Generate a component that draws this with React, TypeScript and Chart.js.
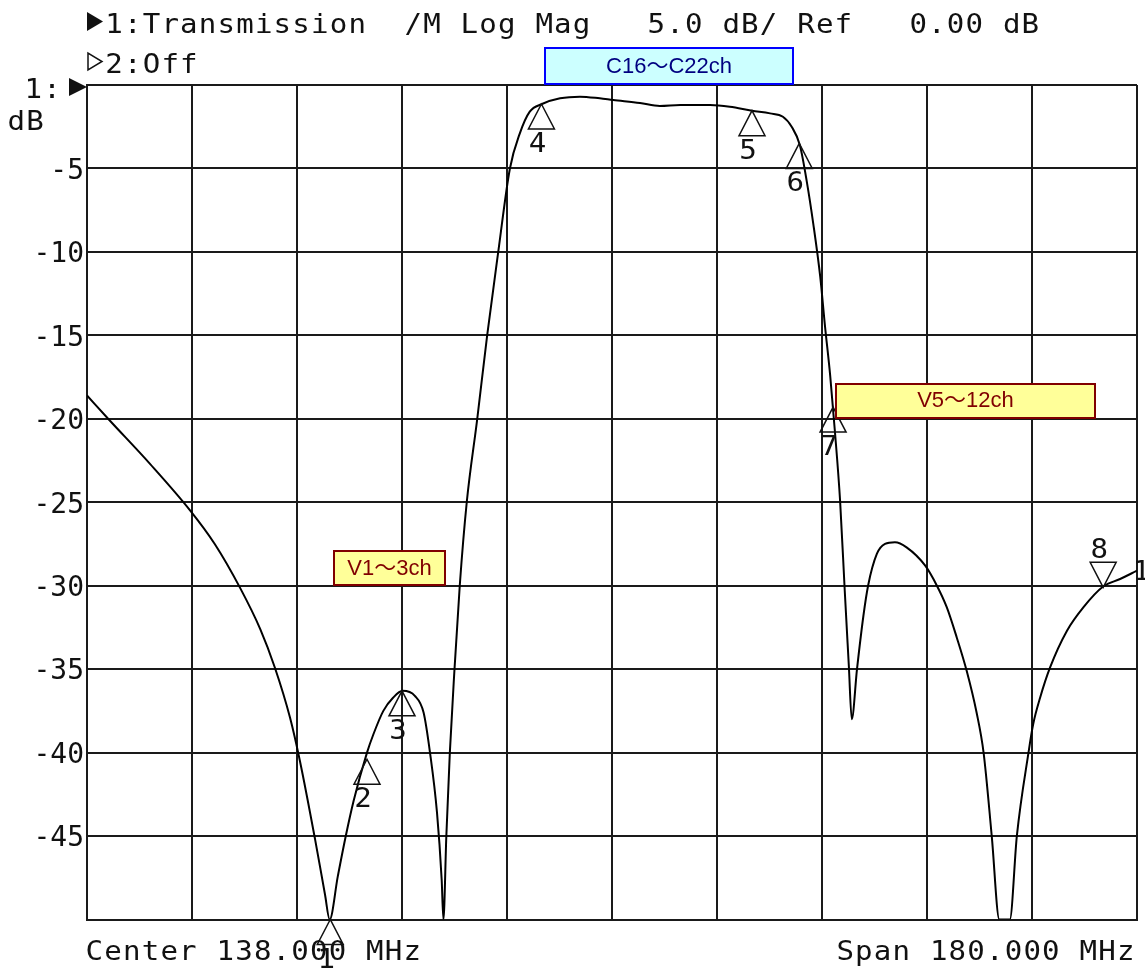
import React, { useEffect, useRef } from 'react';
import { Chart, registerables } from 'chart.js';

Chart.register(...registerables);

const freqMHz = [
  48.0, 51.9, 58.8, 65.7, 69.9, 74.2, 77.7, 80.2, 82.8, 84.5, 87.1, 88.8, 89.6,
  91.0, 92.3, 93.7, 96.0, 97.1, 98.8, 100.5, 102.1, 104.2, 105.7, 106.8, 108.0, 108.8, 109.1,
  109.6, 110.2, 111.0, 111.9, 113.1, 114.9, 116.6, 118.5, 120.5, 122.2, 123.9, 126.0, 129.1,
  132.5, 135.9, 138.2, 142.8, 146.2, 149.7, 154.8, 158.2, 162.0, 165.1, 167.3, 168.8, 170.2, 171.4,
  172.5, 173.7, 174.5, 175.4, 176.2, 177.1, 177.9, 178.6, 179.1, 180.0, 181.1, 181.9, 183.4,
  184.8, 186.5, 188.5, 191.7, 193.7, 195.4, 197.1, 198.8, 200.5, 201.7, 203.1, 204.4, 206.2, 207.4,
  209.4, 210.2, 211.4, 213.1, 216.0, 218.8, 222.2, 225.1, 228.0,
];
const transDb = [
  -18.6, -20.1, -22.7, -25.5, -27.5, -30.1, -32.6, -34.9, -37.9, -40.5, -45.2, -48.5, -50.0,
  -47.4, -45.1, -42.9, -40.0, -38.9, -37.5, -36.7, -36.3, -36.6, -37.6, -40.0, -43.6, -47.6, -50.0,
  -45.0, -40.0, -35.0, -30.0, -25.0, -20.0, -15.0, -10.0, -5.0, -2.9, -1.6, -1.14, -0.8,
  -0.7, -0.8, -0.9, -1.08, -1.26, -1.2, -1.2, -1.3, -1.54, -1.7, -1.9, -2.5, -3.6, -5.8,
  -8.3, -11.5, -14.4, -17.4, -20.7, -24.9, -30.3, -34.8, -38.0, -35.0, -31.8, -30.0, -28.1,
  -27.5, -27.4, -27.7, -28.8, -30.0, -31.3, -33.1, -35.1, -37.6, -40.0, -45.0, -50.0, -50.0, -45.0,
  -40.0, -38.3, -36.7, -34.9, -32.7, -31.3, -30.05, -29.6, -29.1,
];

const markerNames = ['1', '2', '3', '4', '5', '6', '7', '8'];
const markerFreq = [89.7, 96.0, 102.0, 125.9, 162.0, 170.1, 175.9, 222.2];
const markerDb = [-50.0, -40.4, -36.3, -1.14, -1.54, -3.5, -19.3, -30.1];

const freqMin = 48;
const freqMax = 228;
const freqStep = 18;
const dbMin = -50;
const dbMax = 0;
const dbStep = 5;

const headerLine1 = '1:Transmission  /M Log Mag   5.0 dB/ Ref   0.00 dB';
const headerLine2 = '2:Off';
const refLabel = '1:';
const unitLabel = 'dB';
const centerLabel = 'Center 138.000 MHz';
const spanLabel = 'Span 180.000 MHz';
const traceEndLabel = '1';
const bandLabels = ['C16〜C22ch', 'V5〜12ch', 'V1〜3ch'];

// ---- styling ----
const MONO_FAMILY = '"DejaVu Sans Mono", monospace';
const MONO = `26px ${MONO_FAMILY}`;
const PITCH = 18.7;
const STRETCH = 1.12;
const INK = '#111111';

function drawMono(ctx: CanvasRenderingContext2D, text: string, x: number, y: number) {
  ctx.save();
  ctx.font = MONO;
  ctx.fillStyle = INK;
  ctx.textAlign = 'center';
  ctx.textBaseline = 'alphabetic';
  for (let i = 0; i < text.length; i++) {
    const ch = text[i];
    if (ch === ' ') continue;
    ctx.save();
    ctx.translate(x + i * PITCH + PITCH / 2, y);
    ctx.scale(STRETCH, 1);
    ctx.fillText(ch, 0, 0);
    ctx.restore();
  }
  ctx.restore();
}

function drawBox(
  ctx: CanvasRenderingContext2D,
  text: string,
  x0: number,
  y0: number,
  x1: number,
  y1: number,
  fill: string,
  stroke: string,
  color: string,
  baseline: number
) {
  ctx.save();
  ctx.fillStyle = fill;
  ctx.fillRect(x0, y0, x1 - x0, y1 - y0);
  ctx.strokeStyle = stroke;
  ctx.lineWidth = 2;
  ctx.strokeRect(x0, y0, x1 - x0, y1 - y0);
  ctx.fillStyle = color;
  ctx.font = '22px "Liberation Sans", "Noto Sans CJK JP", sans-serif';
  ctx.textAlign = 'center';
  ctx.textBaseline = 'alphabetic';
  ctx.fillText(text, (x0 + x1) / 2, baseline);
  ctx.restore();
}

const overlayPlugin = {
  id: 'analyzerOverlay',
  beforeDraw(chart: any) {
    const ctx = chart.ctx as CanvasRenderingContext2D;
    ctx.save();
    ctx.fillStyle = '#ffffff';
    ctx.fillRect(0, 0, chart.width, chart.height);
    ctx.restore();
  },
  afterDraw(chart: any) {
    const ctx = chart.ctx as CanvasRenderingContext2D;
    const xs = chart.scales.x;
    const ys = chart.scales.y;
    const area = chart.chartArea;

    // header triangles
    ctx.save();
    ctx.fillStyle = INK;
    ctx.beginPath();
    ctx.moveTo(87, 12);
    ctx.lineTo(87, 31);
    ctx.lineTo(103, 21.5);
    ctx.closePath();
    ctx.fill();
    ctx.strokeStyle = INK;
    ctx.lineWidth = 1.5;
    ctx.beginPath();
    ctx.moveTo(88, 53);
    ctx.lineTo(88, 70);
    ctx.lineTo(102, 61.5);
    ctx.closePath();
    ctx.stroke();
    // reference arrow
    ctx.beginPath();
    ctx.moveTo(69, 78);
    ctx.lineTo(69, 96);
    ctx.lineTo(87, 87);
    ctx.closePath();
    ctx.fill();
    ctx.restore();

    drawMono(ctx, headerLine1, 86 + PITCH, 33);
    drawMono(ctx, headerLine2, 86 + PITCH, 73);
    drawMono(ctx, refLabel, 24, 98);
    drawMono(ctx, unitLabel, 7, 130);
    drawMono(ctx, centerLabel, 85, 960);
    drawMono(ctx, spanLabel, area.right - spanLabel.length * PITCH - 2, 960);
    drawMono(ctx, traceEndLabel, area.right - 5, 580);

    // markers
    ctx.save();
    ctx.strokeStyle = INK;
    ctx.lineWidth = 1.5;
    for (let i = 0; i < markerNames.length; i++) {
      const px = xs.getPixelForValue(markerFreq[i]);
      const py = ys.getPixelForValue(markerDb[i]);
      const down = i === markerNames.length - 1;
      const h = 25;
      const w = 13;
      ctx.beginPath();
      if (down) {
        ctx.moveTo(px, py);
        ctx.lineTo(px - w, py - h);
        ctx.lineTo(px + w, py - h);
      } else {
        ctx.moveTo(px, py);
        ctx.lineTo(px - w, py + h);
        ctx.lineTo(px + w, py + h);
      }
      ctx.closePath();
      ctx.stroke();
      const ly = down ? py - h - 4 : py + h + 23;
      drawMono(ctx, markerNames[i], px - 4 - PITCH / 2, ly);
    }
    ctx.restore();

    // band annotations
    drawBox(ctx, bandLabels[0], 545, 48, 793, 84, '#ccffff', '#0000ff', '#000080', 73);
    drawBox(ctx, bandLabels[1], 836, 384, 1095, 418, '#ffff99', '#800000', '#800000', 407);
    drawBox(ctx, bandLabels[2], 334, 551, 445, 585, '#ffff99', '#800000', '#800000', 575);
  },
};

export default function App() {
  const canvasRef = useRef<HTMLCanvasElement | null>(null);

  useEffect(() => {
    const canvas = canvasRef.current;
    if (!canvas) return;
    const points = freqMHz.map((f, i) => ({ x: f, y: transDb[i] }));
    const chart = new Chart(canvas, {
      type: 'scatter',
      data: {
        datasets: [
          {
            data: points,
            showLine: true,
            borderColor: '#000000',
            borderWidth: 2,
            pointRadius: 0,
            cubicInterpolationMode: 'monotone',
          },
        ],
      },
      options: {
        responsive: false,
        animation: false,
        devicePixelRatio: 1,
        layout: { padding: { left: 0, top: 85, right: 8, bottom: 49.5 } },
        plugins: { legend: { display: false }, tooltip: { enabled: false } },
        scales: {
          x: {
            type: 'linear',
            min: freqMin,
            max: freqMax,
            ticks: { display: false, stepSize: freqStep },
            grid: { color: '#1a1a1a', lineWidth: 2, drawTicks: false },
            border: { display: true, color: '#1a1a1a', width: 2 },
            afterFit: (s: any) => {
              s.height = 0;
            },
          },
          y: {
            type: 'linear',
            min: dbMin,
            max: dbMax,
            ticks: {
              stepSize: dbStep,
              padding: 3,
              labelOffset: 3,
              color: INK,
              font: { family: MONO_FAMILY, size: 28 },
              callback: (v: any) => (v === dbMax || v === dbMin ? '' : String(v)),
            },
            grid: { color: '#1a1a1a', lineWidth: 2, drawTicks: false },
            border: { display: true, color: '#1a1a1a', width: 2 },
            afterFit: (s: any) => {
              s.width = 87;
            },
          },
        },
      },
      plugins: [overlayPlugin],
    });
    return () => chart.destroy();
  }, []);

  return (
    <div style={{ position: 'absolute', left: 0, top: 0, width: 1145, height: 969, background: '#fff' }}>
      <canvas ref={canvasRef} width={1145} height={969} style={{ display: 'block' }} />
    </div>
  );
}
